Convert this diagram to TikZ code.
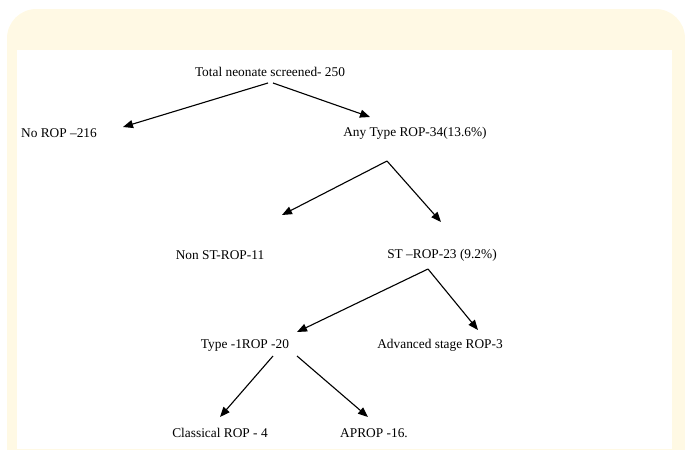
\documentclass[tikz,border=0pt]{standalone}
\usepackage{fontspec}
\setmainfont{Liberation Serif}
\usetikzlibrary{arrows.meta,calc}
\definecolor{cream}{RGB}{255,249,228}

\begin{document}
\begin{tikzpicture}[x=0.03cm, y=-0.03cm, every node/.style={font=\fontsize{11.4}{13}\selectfont, inner sep=0pt}, arr/.style={line width=0.95pt, -{Triangle[length=3mm, width=2.4mm]}}]
			\useasboundingbox (0,0) rectangle (685,449);
			% Fundo
			\begin{scope}
				\clip (0,0) rectangle (685,449);
				\fill[cream, rounded corners=25] (7,520) -- (7,9) -- (685,9) -- (685,520) -- cycle;
				\fill[white] (17,50) rectangle (672,449);
			\end{scope}
			
			% Nivel 1
			\node (total) at (270,72) {Total neonate screened- 250};
			\node (norop) at (59,133) {No ROP --216};
			\node (any) at (415,133) {Any Type ROP-34(13.6\%)};
			
			\draw[arr] ($(total)+(-2,11)$) -- ($(norop)+(64,-6)$);
			\draw[arr] ($(total)+(3,11)$) -- ($(any)+(-45,-16)$);
			
			% Nivel 2
			\node (nonst) at (220,255) {Non ST-ROP-11};
			\node (st) at (442,255) {ST --ROP-23 (9.2\%)};
			
			\draw[arr] ($(any)+(-28,28)$) -- ($(nonst)+(62,-40)$);
			\draw[arr] ($(any)+(-28,28)$) -- ($(st)+(-1,-33)$);
			
			% Nivel 3
			\node (type1) at (245,345) {Type -1ROP -20};
			\node (adv) at (440,345) {Advanced stage ROP-3};
			
			\draw[arr] ($(st)+(-14,14)$) -- ($(type1)+(52,-13)$);
			\draw[arr] ($(st)+(-14,14)$) -- ($(adv)+(38,-15)$);
			
			% Nivel 4
			\node (classical) at (220,433) {Classical ROP - 4};
			\node (aprop) at (374,433) {APROP -16.};
			
			\draw[arr] ($(type1)+(28,11)$) -- ($(classical)+(0,-16)$);
			\draw[arr] ($(type1)+(52,11)$) -- ($(aprop)+(-6,-16)$);
		\end{tikzpicture}
\end{document}
